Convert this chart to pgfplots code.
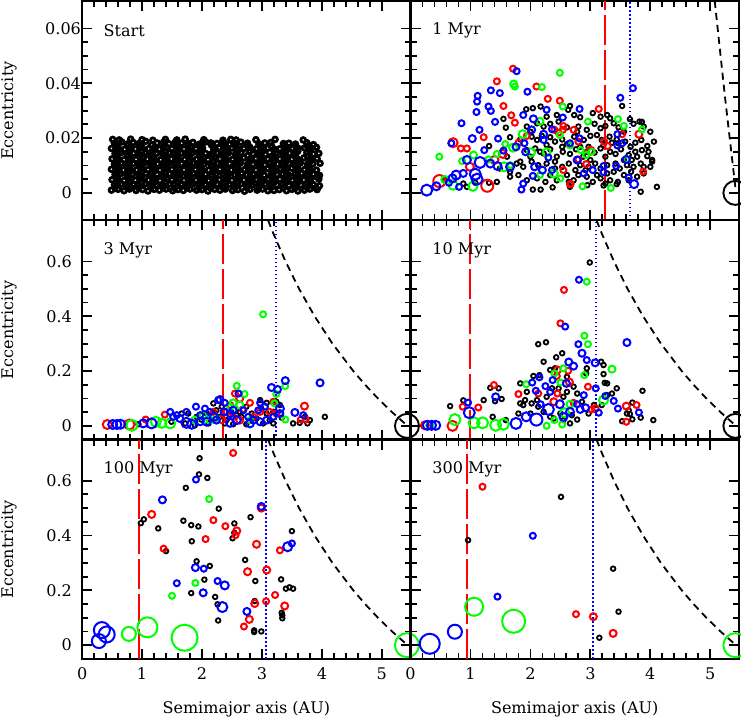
\documentclass[border=0pt]{standalone}
\usepackage{fontspec}
\setmainfont{DejaVu Serif}
\usepackage{pgfplots}
\pgfplotsset{compat=1.18}
\usepgfplotslibrary{groupplots}

\newcommand{\fs}{\fontsize{16bp}{19bp}\selectfont}

\pgfplotsset{
  panel/.style={scale only axis, width=328bp, height=219bp, xmin=0, xmax=5.48, clip=false,
    axis line style={line width=2.2bp}, tick style={line width=1.8bp, black},
    tick align=inside, xtick pos=both, ytick pos=both,
    xtick={0,1,2,3,4,5}, minor x tick num=4, minor y tick num=3,
    major tick length=10bp, minor tick length=6bp,
    xticklabels={}, yticklabels={},
    tick label style={font=\fs},
    xticklabel style={inner sep=0pt, yshift=-8.5bp},
    yticklabel style={inner sep=0pt, xshift=-10bp},
    every axis x label/.style={at={(axis description cs:0.5,0)}, yshift=-50bp, anchor=center, font=\fs},
    every axis y label/.style={at={(axis description cs:0,0.5)}, xshift=-73bp, rotate=90, anchor=center, font=\fs}},
  toprow/.style={ymin=-0.01, ymax=0.07, ytick={0,0.02,0.04,0.06}},
  lowrow/.style={ymin=-0.05, ymax=0.75, ytick={0,0.2,0.4,0.6}},
  dot/.style={only marks, mark=o, mark size=2.3bp, black, line width=1.8bp, mark options={line width=1.8bp}},
  dense/.style={only marks, mark=o, mark size=2.4bp, black, line width=2.7bp, mark options={line width=2.7bp}},
  ring/.style={only marks, scatter, mark=o, line width=2bp, point meta=\thisrow{r},
    mark options={line width=2bp},
    scatter/use mapped color={draw=#1, fill=none, line width=2bp},
    visualization depends on={\thisrow{r}\as\rr},
    scatter/@pre marker code/.append style={/tikz/mark size=\rr bp}},
  qline/.style={draw=black, line width=1.8bp, dash pattern=on 7bp off 5bp},
  rline/.style={draw=red, line width=2.2bp, dash pattern=on 30bp off 5bp},
  bline/.style={draw=blue, line width=2.2bp, dash pattern=on 1.6bp off 2.4bp},
  jup/.style={only marks, mark=o, mark size=12bp, line width=1.9bp, mark options={line width=1.9bp, draw=#1}, #1},
}

\begin{document}
\begin{tikzpicture}
\begin{groupplot}[group style={group size=2 by 3, horizontal sep=0pt, vertical sep=0pt, group name=G}, panel]

% ---------------- Start
\nextgroupplot[toprow, ylabel={Eccentricity},
  yticklabels={0,0.02\hspace*{-9bp},0.04\hspace*{-9bp},0.06\hspace*{-9bp}}]
\addplot[dense] coordinates {
(0.49,.0010)(0.60,.0013)(0.70,.0008)(0.79,.0014)(0.90,.0009)(1.01,.0012)(1.10,.0007)(1.20,.0013)(1.29,.0010)(1.40,.0014)(1.51,.0008)(1.60,.0012)(1.69,.0009)(1.80,.0014)(1.91,.0010)(2.00,.0012)(2.10,.0007)(2.21,.0013)(2.30,.0010)(2.39,.0014)(2.51,.0009)(2.60,.0012)(2.71,.0006)(2.80,.0013)(2.92,.0010)(3.01,.0014)(3.20,.0009)(3.29,.0012)(3.41,.0008)(3.50,.0013)(3.71,.0010)(3.80,.0014)(3.92,.0012)
(0.54,.0029)(0.65,.0032)(0.74,.0026)(0.85,.0031)(0.94,.0027)(1.05,.0033)(1.15,.0028)(1.24,.0030)(1.35,.0026)(1.45,.0032)(1.54,.0029)(1.65,.0031)(1.75,.0027)(1.84,.0033)(1.95,.0028)(2.05,.0030)(2.16,.0026)(2.25,.0032)(2.34,.0029)(2.45,.0031)(2.56,.0027)(2.65,.0033)(2.84,.0030)(2.95,.0026)(3.05,.0032)(3.15,.0028)(3.34,.0031)(3.45,.0027)(3.56,.0032)(3.65,.0029)(3.86,.0030)(3.96,.0026)
(0.50,.0048)(0.59,.0051)(0.70,.0045)(0.81,.0050)(0.89,.0046)(1.00,.0052)(1.11,.0047)(1.19,.0049)(1.30,.0045)(1.41,.0051)(1.50,.0048)(1.61,.0050)(1.70,.0046)(1.79,.0052)(1.90,.0047)(2.01,.0049)(2.11,.0045)(2.20,.0051)(2.29,.0048)(2.41,.0050)(2.50,.0046)(2.61,.0052)(2.70,.0047)(2.91,.0049)(3.00,.0045)(3.11,.0051)(3.21,.0048)(3.30,.0050)(3.51,.0046)(3.60,.0052)(3.70,.0047)(3.81,.0049)(3.95,.0051)
(0.55,.0067)(0.64,.0070)(0.75,.0064)(0.84,.0069)(0.95,.0065)(1.06,.0071)(1.14,.0066)(1.25,.0068)(1.34,.0064)(1.46,.0070)(1.55,.0067)(1.64,.0069)(1.76,.0065)(1.85,.0071)(1.94,.0066)(2.06,.0068)(2.15,.0064)(2.24,.0070)(2.36,.0067)(2.44,.0069)(2.55,.0065)(2.66,.0071)(2.75,.0066)(2.85,.0068)(3.04,.0064)(3.16,.0070)(3.25,.0067)(3.35,.0069)(3.44,.0065)(3.66,.0071)(3.75,.0066)(3.86,.0068)(3.96,.0064)
(0.49,.0086)(0.60,.0089)(0.69,.0083)(0.80,.0088)(0.91,.0084)(0.99,.0090)(1.10,.0085)(1.21,.0087)(1.30,.0083)(1.39,.0089)(1.50,.0086)(1.61,.0088)(1.70,.0084)(1.80,.0090)(1.89,.0085)(2.00,.0087)(2.11,.0083)(2.19,.0089)(2.30,.0086)(2.41,.0088)(2.49,.0084)(2.60,.0090)(2.71,.0085)(2.80,.0087)(2.90,.0083)(3.10,.0089)(3.19,.0086)(3.31,.0088)(3.40,.0084)(3.50,.0090)(3.71,.0085)(3.80,.0087)(3.91,.0083)
(0.54,.0105)(0.65,.0108)(0.74,.0102)(0.85,.0107)(0.96,.0103)(1.04,.0109)(1.15,.0104)(1.26,.0106)(1.35,.0102)(1.44,.0108)(1.55,.0105)(1.66,.0107)(1.74,.0103)(1.85,.0109)(1.95,.0104)(2.04,.0106)(2.16,.0102)(2.25,.0108)(2.35,.0105)(2.46,.0107)(2.55,.0103)(2.64,.0109)(2.76,.0104)(2.95,.0106)(3.05,.0102)(3.14,.0108)(3.26,.0105)(3.45,.0107)(3.55,.0103)(3.64,.0109)(3.76,.0104)(3.85,.0106)(3.97,.0108)
(0.50,.0124)(0.59,.0127)(0.70,.0121)(0.80,.0126)(0.90,.0122)(1.01,.0128)(1.09,.0123)(1.20,.0125)(1.31,.0121)(1.40,.0127)(1.49,.0124)(1.60,.0126)(1.71,.0122)(1.80,.0128)(1.91,.0123)(1.99,.0125)(2.10,.0121)(2.21,.0127)(2.30,.0124)(2.40,.0126)(2.51,.0122)(2.70,.0128)(2.81,.0123)(2.90,.0125)(3.01,.0121)(3.20,.0127)(3.30,.0124)(3.41,.0126)(3.60,.0122)(3.70,.0128)(3.81,.0123)(3.92,.0125)
(0.55,.0143)(0.64,.0146)(0.75,.0140)(0.86,.0145)(0.94,.0141)(1.05,.0147)(1.16,.0142)(1.24,.0144)(1.35,.0140)(1.45,.0146)(1.54,.0143)(1.65,.0145)(1.76,.0141)(1.84,.0147)(1.95,.0142)(2.06,.0144)(2.14,.0140)(2.25,.0146)(2.35,.0143)(2.44,.0145)(2.56,.0141)(2.65,.0147)(2.85,.0142)(2.96,.0144)(3.06,.0140)(3.24,.0146)(3.35,.0143)(3.46,.0145)(3.56,.0141)(3.75,.0147)(3.86,.0142)(3.95,.0144)
(0.49,.0162)(0.60,.0165)(0.71,.0159)(0.80,.0164)(0.89,.0160)(1.00,.0166)(1.11,.0161)(1.20,.0163)(1.29,.0159)(1.41,.0165)(1.50,.0162)(1.59,.0164)(1.70,.0160)(1.81,.0166)(1.90,.0161)(2.01,.0163)(2.20,.0159)(2.29,.0165)(2.40,.0162)(2.50,.0164)(2.61,.0160)(2.80,.0166)(2.91,.0161)(3.10,.0163)(3.21,.0159)(3.40,.0165)(3.51,.0162)(3.71,.0164)(3.80,.0160)(3.91,.0166)
(0.54,.0181)(0.66,.0186)(0.75,.0178)(0.85,.0184)(0.95,.0180)(1.06,.0188)(1.25,.0182)(1.36,.0185)(1.45,.0179)(1.56,.0187)(1.66,.0181)(1.85,.0184)(1.96,.0178)(2.06,.0186)(2.25,.0180)(2.36,.0183)(2.46,.0177)(2.65,.0185)(2.76,.0181)(2.95,.0179)(3.15,.0184)(3.36,.0180)(3.56,.0178)(3.75,.0183)(3.86,.0176)
(0.51,.0195)(0.62,.0193)(0.81,.0196)(1.00,.0194)(1.18,.0192)(1.39,.0195)(1.58,.0193)(1.72,.0196)(2.03,.0194)(2.35,.0192)(2.48,.0195)(2.57,.0193)(2.90,.0194)(3.22,.0195)(3.69,.0193)
(0.55,.0019)(0.75,.0020)(0.95,.0018)(1.15,.0020)(1.35,.0019)(1.55,.0018)(1.75,.0020)(1.95,.0019)(2.15,.0018)(2.35,.0020)
(0.60,.0039)(0.80,.0040)(1.00,.0038)(1.20,.0040)(1.40,.0039)(1.60,.0038)(1.80,.0040)(2.00,.0039)(2.20,.0041)
(0.56,.0058)(0.76,.0059)(0.96,.0057)(1.16,.0060)(1.36,.0058)(1.56,.0057)(1.76,.0059)(1.96,.0058)(2.16,.0060)(2.40,.0058)
(0.60,.0077)(0.80,.0078)(1.00,.0076)(1.20,.0079)(1.40,.0077)(1.60,.0076)(1.80,.0078)(2.00,.0077)(2.20,.0079)
(0.56,.0096)(0.76,.0097)(0.96,.0095)(1.16,.0098)(1.36,.0096)(1.56,.0095)(1.76,.0097)(1.96,.0096)(2.16,.0098)
(0.60,.0115)(0.80,.0116)(1.00,.0114)(1.20,.0117)(1.40,.0115)(1.60,.0114)(1.80,.0116)(2.00,.0115)
(0.56,.0134)(0.76,.0135)(0.96,.0133)(1.16,.0136)(1.36,.0134)(1.56,.0133)(1.76,.0135)(1.96,.0134)
(0.60,.0153)(0.80,.0154)(1.00,.0152)(1.20,.0155)(1.40,.0153)(1.60,.0152)(1.80,.0154)
(0.56,.0172)(0.76,.0173)(0.96,.0171)(1.16,.0174)(1.36,.0172)(1.56,.0171)
(2.55,.0019)(2.75,.0020)(2.95,.0018)(3.15,.0020)(3.35,.0019)(3.55,.0018)(3.75,.0020)(3.90,.0018)(3.10,.0008)(3.60,.0007)
(2.40,.0039)(2.60,.0040)(2.80,.0038)(3.00,.0040)(3.20,.0039)(3.40,.0038)(3.60,.0040)(3.80,.0039)(2.75,.0030)(3.25,.0029)(3.75,.0031)
(2.60,.0058)(2.80,.0057)(2.96,.0058)(3.16,.0059)(3.40,.0058)(3.56,.0057)(3.76,.0060)(3.92,.0058)(2.80,.0049)(3.41,.0049)
(2.40,.0077)(2.60,.0078)(2.80,.0076)(3.00,.0079)(3.20,.0077)(3.40,.0076)(3.60,.0078)(3.80,.0077)(2.95,.0067)(3.55,.0068)
(2.36,.0096)(2.56,.0097)(2.76,.0095)(2.96,.0098)(3.16,.0096)(3.36,.0095)(3.56,.0097)(3.76,.0096)(3.00,.0086)(3.60,.0087)
(2.20,.0115)(2.40,.0116)(2.60,.0114)(2.80,.0117)(3.00,.0115)(3.20,.0114)(3.40,.0116)(3.60,.0115)(3.80,.0114)(2.85,.0105)(3.35,.0105)
(2.16,.0134)(2.36,.0135)(2.56,.0133)(2.76,.0136)(2.96,.0134)(3.16,.0133)(3.36,.0135)(3.56,.0134)(3.76,.0135)(2.60,.0124)(3.10,.0124)(3.50,.0123)
(2.00,.0153)(2.20,.0154)(2.40,.0152)(2.60,.0155)(2.80,.0153)(3.00,.0152)(3.20,.0154)(3.40,.0153)(3.60,.0152)(3.80,.0154)(2.70,.0162)(3.00,.0162)(3.30,.0161)(3.60,.0163)
(1.76,.0173)(1.96,.0171)(2.16,.0174)(2.36,.0172)(2.56,.0171)(2.76,.0173)(2.96,.0172)(3.16,.0171)(3.36,.0173)(3.56,.0172)(3.76,.0171)(1.76,.0181)(2.15,.0182)(2.55,.0181)(3.05,.0182)(3.45,.0181)
};
\node[anchor=west, font=\fs] at (rel axis cs:0.055,0.865) {Start};

% ---------------- 1 Myr
\nextgroupplot[toprow]
\addplot[rline] coordinates {(3.25,-0.01)(3.25,0.07)};
\addplot[bline] coordinates {(3.66,-0.01)(3.66,0.07)};
\addplot[qline] coordinates {(5.075,0.07)(5.246,0.035)(5.43,0)};
\addplot[dot] coordinates {
(1.93,.0305)(2.04,.0309)(2.17,.0315)(2.66,.0317)(2.63,.0303)(2.27,.0278)(2.44,.0284)(2.73,.0284)(2.83,.0276)(3.04,.0291)(3.17,.0278)(3.28,.0284)(3.33,.0272)(3.53,.0317)(3.66,.0269)(3.86,.0259)
(1.59,.0238)(1.55,.0270)(1.94,.0242)(2.11,.0254)(2.22,.0242)(2.33,.0252)(2.47,.0260)(2.61,.0239)(2.80,.0242)(2.94,.0230)(3.07,.0252)(3.17,.0236)(3.25,.0244)(3.39,.0254)(3.47,.0239)(3.56,.0223)(3.72,.0252)(3.82,.0260)(3.89,.0242)(4.00,.0223)(2.00,.0223)
(2.02,.0205)(2.11,.0193)(2.19,.0208)(2.33,.0203)(2.41,.0187)(2.53,.0195)(2.61,.0178)(2.73,.0205)(2.89,.0193)(3.00,.0208)(3.11,.0211)(3.19,.0193)(3.32,.0205)(3.36,.0183)(3.44,.0195)(3.58,.0187)(3.67,.0168)(3.75,.0183)(3.85,.0193)(3.95,.0171)(4.06,.0187)(1.83,.0195)(1.31,.0171)(1.66,.0203)(2.27,.0175)
(1.94,.0156)(2.08,.0162)(2.22,.0144)(2.33,.0159)(2.44,.0132)(2.54,.0150)(2.66,.0142)(2.76,.0159)(2.88,.0132)(2.97,.0168)(3.07,.0147)(3.17,.0162)(3.25,.0132)(3.33,.0150)(3.42,.0142)(3.51,.0159)(3.64,.0138)(3.75,.0150)(3.78,.0132)(3.86,.0156)(3.95,.0134)(4.03,.0120)(2.00,.0132)(1.83,.0114)(1.61,.0132)
(1.77,.0107)(1.88,.0095)(2.02,.0114)(2.13,.0101)(2.27,.0107)(2.41,.0114)(2.53,.0095)(2.64,.0107)(2.75,.0083)(2.83,.0101)(2.97,.0095)(3.08,.0107)(3.17,.0089)(3.28,.0101)(3.39,.0077)(3.49,.0089)(3.61,.0101)(3.72,.0095)(3.84,.0107)(4.00,.0095)(4.03,.0114)(1.66,.0077)(1.49,.0089)
(1.66,.0059)(1.80,.0065)(1.94,.0046)(2.11,.0053)(2.25,.0040)(2.33,.0065)(2.44,.0046)(2.61,.0065)(2.72,.0046)(2.80,.0065)(2.94,.0059)(3.04,.0040)(3.17,.0053)(3.25,.0034)(3.33,.0046)(3.46,.0040)(3.56,.0065)(3.68,.0077)(3.78,.0059)(3.89,.0071)(1.44,.0040)(1.31,.0037)(1.08,.0037)(0.94,.0022)(0.88,.0034)
(2.04,.0012)(2.17,.0012)(2.37,.0020)(2.66,.0022)(2.95,.0028)(3.22,.0027)(3.44,.0032)(3.84,.0004)(4.11,.0022)(0.57,.0046)
(3.00,.0120)(2.83,.0168)(3.28,.0071)(3.56,.0120)(3.69,.0120)(3.89,.0095)(3.97,.0150)(2.92,.0083)(2.64,.0040)(2.94,.0150)(3.47,.0181)(3.22,.0175)(2.78,.0223)(2.53,.0168)(2.16,.0150)(2.41,.0089)(3.11,.0065)(3.42,.0107)(3.64,.0046)
};
\addplot[ring=red] table[row sep=\\] {x y r\\
1.71 .0453 3\\ 1.44 .0407 3\\ 2.10 .0388 3\\ 2.29 .0343 3\\ 2.49 .0336 3\\ 1.55 .0317 3\\ 1.68 .0283 3\\ 1.74 .0256 3\\
3.14 .0306 3\\ 1.22 .0203 3\\ 0.71 .0183 4.5\\ 0.84 .0162 3\\ 0.94 .0162 3\\ 1.80 .0183 3\\ 1.54 .0142 4\\ 1.40 .0120 4\\
0.99 .0095 4\\ 0.48 .0043 6\\ 1.28 .0026 6\\ 2.67 .0032 3\\ 2.40 .0230 3\\ 2.54 .0230 3\\ 2.72 .0230 3\\ 2.55 .0244 3\\
2.47 .0220 3\\ 2.80 .0187 3\\ 3.23 .0187 3\\ 3.29 .0171 3\\ 3.53 .0214 3\\ 3.81 .0214 3.5\\ 3.00 .0154 4\\ 2.80 .0122 3\\
2.93 .0105 3\\ 2.55 .0083 3\\ 3.88 .0078 3\\ 2.66 .0031 3\\ 1.94 .0208 3\\
};
\addplot[ring=green] table[row sep=\\] {x y r\\
2.49 .0438 3\\ 1.72 .0397 3.5\\ 1.74 .0388 3\\ 2.19 .0386 3\\ 2.54 .0315 3\\ 2.16 .0261 3.5\\ 2.96 .0260 3\\ 3.46 .0269 3\\
3.56 .0244 3\\ 3.86 .0231 3\\ 1.87 .0214 4\\ 1.71 .0165 4\\ 1.58 .0178 3\\ 2.01 .0148 4\\ 2.27 .0148 4\\ 2.49 .0211 3\\
1.44 .0142 3\\ 1.30 .0122 3\\ 0.48 .0132 3\\ 0.86 .0116 3\\ 1.05 .0138 3.5\\ 1.56 .0095 4.5\\ 1.66 .0101 3\\ 2.39 .0071 4\\
2.16 .0065 3\\ 2.50 .0053 3\\ 2.87 .0024 3\\ 3.34 .0018 3\\ 2.93 .0138 3\\ 2.84 .0156 3\\ 3.02 .0150 3\\ 3.61 .0122 3\\
0.71 .0028 4.5\\ 0.57 .0049 3.5\\ 1.04 .0024 4.5\\ 2.66 .0173 3\\
};
\addplot[ring=blue] table[row sep=\\] {x y r\\
1.77 .0444 3\\ 1.12 .0354 3\\ 1.49 .0364 3\\ 1.34 .0374 3\\ 1.95 .0369 3\\ 1.11 .0333 3\\ 1.30 .0315 3\\ 1.34 .0299 3\\
1.10 .0295 3\\ 1.88 .0284 3\\ 2.27 .0303 3\\ 2.54 .0275 3\\ 2.82 .0306 3\\ 0.85 .0254 3\\ 1.41 .0259 3\\ 2.05 .0270 3.5\\
1.15 .0230 3\\ 2.02 .0230 3.5\\ 2.22 .0214 3.5\\ 2.36 .0232 3\\ 1.03 .0198 3.5\\ 1.46 .0198 3\\ 0.68 .0181 3\\ 1.23 .0156 3\\
1.76 .0168 3.5\\ 1.90 .0181 3\\ 1.55 .0154 3\\ 2.22 .0193 3\\ 2.66 .0181 3\\ 2.82 .0199 3\\ 0.94 .0120 4\\ 1.16 .0111 5.5\\
1.33 .0107 4\\ 1.45 .0098 4\\ 1.66 .0095 4\\ 1.92 .0150 3.5\\ 2.07 .0095 3.5\\ 2.30 .0129 3\\ 2.20 .0083 3.5\\ 2.36 .0083 3\\
2.78 .0120 3.5\\ 2.89 .0071 3\\ 3.04 .0083 3\\ 3.50 .0347 3\\ 3.71 .0382 3\\ 3.43 .0098 3\\ 3.60 .0122 3.5\\ 3.64 .0056 3\\
3.73 .0032 4\\ 3.53 .0181 3\\ 3.45 .0214 3\\ 3.22 .0098 3\\ 0.76 .0065 4.5\\ 0.88 .0071 3.5\\ 1.08 .0068 5.5\\ 1.11 .0050 5.5\\
0.70 .0053 4\\ 0.64 .0037 3\\ 0.81 .0022 3\\ 0.27 .0010 5.5\\ 0.43 .0024 4\\ 1.88 .0034 3\\ 1.85 .0012 3\\ 2.04 .0062 3\\
3.22 .0076 3\\ 3.45 .0173 3\\
};
\addplot[jup=black] coordinates {(5.42,0)};
\node[anchor=west, font=\fs] at (rel axis cs:0.056,0.865) {1 Myr};

% ---------------- 3 Myr
\nextgroupplot[lowrow, ylabel={Eccentricity}, yticklabels={0,0.2,0.4,0.6}]
\addplot[rline] coordinates {(2.345,-0.05)(2.345,0.75)};
\addplot[bline] coordinates {(3.23,-0.05)(3.23,0.75)};
\addplot[qline] coordinates {(3.103,0.75)(3.194,0.7)(3.394,0.6)(3.620,0.5)(3.879,0.4)(4.177,0.3)(4.525,0.2)(4.722,0.15)(4.936,0.1)(5.171,0.05)(5.43,0)};
\addplot[dot] coordinates {
(0.94,.006)(1.49,.015)(1.77,.045)(2.19,.082)(1.72,.009)(1.91,.033)(1.99,.023)(2.08,.045)(2.24,.057)(2.30,.033)
(2.41,.021)(2.49,.051)(2.58,.039)(2.66,.033)(2.74,.070)(2.83,.045)(2.91,.027)(2.99,.063)(3.08,.045)(3.02,.009)
(3.13,.021)(3.19,.051)(3.24,.088)(3.19,.009)(3.33,.030)(3.52,.009)(3.63,.011)(3.72,.033)(3.80,.021)(3.76,.009)
(4.05,.033)(2.52,.006)(2.74,.006)(2.11,.009)(1.88,.002)(1.66,.045)(2.33,.070)(2.63,.051)(2.38,.009)(3.08,.084)
(3.30,.076)(2.97,.094)
};
\addplot[ring=red] table[row sep=\\] {x y r\\
0.42 .005 4.5\\ 0.79 .005 5\\ 1.06 .023 3\\ 1.38 .041 3\\ 2.55 .118 3\\ 2.63 .100 3.5\\ 2.47 .076 3\\ 2.80 .084 3\\
2.68 .060 3\\ 2.97 .051 3\\ 3.13 .051 3\\ 2.33 .023 3.5\\ 2.63 .021 3.5\\ 3.71 .072 3.5\\ 3.65 .023 3\\ 3.73 .023 3\\
3.24 .045 3\\ 2.52 .033 3\\ 2.19 .051 3\\ 2.86 .033 3\\ 2.41 .051 3\\ 3.19 .088 3\\
};
\addplot[ring=green] table[row sep=\\] {x y r\\
0.83 .002 5.5\\ 1.23 .015 5\\ 1.33 .009 4.5\\ 1.47 .009 5\\ 2.02 .039 3.5\\ 2.13 .021 3.5\\ 2.58 .146 3\\ 2.71 .116 3\\
3.39 .145 3\\ 3.24 .116 3\\ 3.21 .082 3\\ 3.39 .023 3\\ 3.02 .407 3\\ 2.47 .070 3\\ 2.52 .084 3.5\\ 2.63 .076 3.5\\
2.24 .027 3\\ 1.88 .021 3.5\\ 2.80 .021 3\\
};
\addplot[ring=blue] table[row sep=\\] {x y r\\
0.51 .005 4.5\\ 0.58 .005 4.5\\ 0.64 .006 4.5\\ 1.02 .009 4\\ 1.16 .009 5\\ 1.47 .051 3\\ 1.52 .033 3\\ 1.58 .039 3\\
1.63 .027 3.5\\ 1.74 .011 5\\ 1.83 .006 4.5\\ 1.90 .070 3\\ 1.97 .039 3\\ 2.05 .063 3\\ 2.13 .051 3\\ 2.20 .033 4\\
2.27 .094 3\\ 2.30 .096 3.5\\ 2.37 .051 3.5\\ 2.47 .045 3.5\\ 2.58 .021 4\\ 2.61 .118 3\\ 2.69 .057 3\\ 2.77 .033 3\\
2.86 .021 3.5\\ 2.94 .057 3\\ 2.97 .084 3\\ 3.05 .070 3\\ 3.08 .021 3.5\\ 3.16 .140 3.5\\ 3.26 .133 3.5\\ 3.39 .165 3.5\\
3.30 .063 4\\ 3.30 .045 3.5\\ 3.19 .033 3\\ 3.55 .049 3.5\\ 3.69 .039 3\\ 3.97 .157 3.5\\ 2.08 .015 4\\ 2.47 .011 4\\
2.80 .009 4\\ 2.97 .015 3.5\\ 1.74 .051 3\\ 1.97 .015 3.5\\ 2.24 .021 3.5\\ 2.52 .057 3.5\\ 2.38 .084 3\\
};
\addplot[jup=black] coordinates {(5.42,0)};
\node[anchor=west, font=\fs] at (rel axis cs:0.055,0.865) {3 Myr};

% ---------------- 10 Myr
\nextgroupplot[lowrow]
\addplot[rline] coordinates {(0.99,-0.05)(0.99,0.75)};
\addplot[bline] coordinates {(3.10,-0.05)(3.10,0.75)};
\addplot[qline] coordinates {(3.103,0.75)(3.194,0.7)(3.394,0.6)(3.620,0.5)(3.879,0.4)(4.177,0.3)(4.525,0.2)(4.722,0.15)(4.936,0.1)(5.171,0.05)(5.43,0)};
\addplot[dot] coordinates {
(2.99,.596)(2.13,.298)(2.26,.305)(2.53,.265)(2.43,.250)(2.22,.234)(1.33,.139)(1.47,.137)(1.41,.090)(1.22,.094)
(0.66,.072)(0.88,.093)(1.59,.021)(1.37,.033)(1.83,.155)(2.05,.182)(2.15,.185)(2.33,.204)(2.41,.210)(1.91,.094)
(1.52,.098)(1.83,.082)(2.02,.082)(2.39,.027)(2.50,.045)(2.55,.021)(2.94,.210)(2.93,.191)(3.18,.234)(3.22,.222)
(3.22,.189)(3.24,.157)(3.28,.155)(3.44,.137)(3.87,.128)(3.36,.118)(3.28,.112)(3.70,.085)(3.64,.057)(3.61,.045)
(3.66,.043)(3.70,.024)(3.84,.030)(3.53,.017)(4.05,.021)(3.19,.076)(2.78,.023)(2.66,.009)(2.27,.106)(2.36,.137)
(1.94,.124)(2.11,.094)(2.22,.051)(2.13,.070)(2.47,.137)(2.61,.179)(2.72,.143)(2.78,.118)(2.86,.088)(2.97,.045)
(3.06,.076)(2.69,.039)(2.00,.045)(1.80,.045)(1.88,.076)(2.55,.106)(2.61,.124)(2.33,.033)
};
\addplot[ring=red] table[row sep=\\] {x y r\\
2.56 .496 3\\ 2.50 .374 3\\ 1.39 .149 3\\ 0.87 .070 3\\ 1.13 .067 3\\ 1.80 .116 3\\ 2.13 .118 3\\ 2.45 .204 3.5\\
2.44 .182 3\\ 2.65 .160 3.5\\ 2.63 .201 3\\ 2.96 .143 3\\ 2.39 .088 3.5\\ 2.45 .118 3\\ 3.08 .063 3.5\\ 3.02 .060 3\\
3.60 .072 3.5\\ 3.77 .076 3\\ 3.60 .015 3\\ 0.70 .000 5\\ 0.24 .002 4\\ 2.72 .084 3\\
};
\addplot[ring=green] table[row sep=\\] {x y r\\
2.94 .526 3\\ 2.90 .329 3\\ 2.96 .298 3\\ 3.36 .207 3.5\\ 2.90 .185 3\\ 1.93 .152 3\\ 2.40 .191 3\\ 2.50 .158 3\\
2.55 .210 3\\ 2.66 .079 3.5\\ 3.22 .094 4.5\\ 0.74 .023 5.5\\ 1.06 .011 5.5\\ 1.20 .011 5.5\\ 1.42 .002 5.5\\ 1.55 .006 5.5\\
2.27 .000 3\\ 2.53 .005 3\\ 2.40 .021 3\\ 2.57 .048 4.5\\ 0.32 .002 3.5\\
};
\addplot[ring=blue] table[row sep=\\] {x y r\\
2.81 .533 3\\ 2.58 .362 3\\ 2.80 .298 3\\ 2.86 .265 3.5\\ 2.94 .240 3\\ 3.61 .304 3.5\\ 3.08 .230 3.5\\ 2.64 .233 3.5\\
2.72 .218 3.5\\ 0.98 .048 5.5\\ 1.42 .106 3.5\\ 0.96 .085 3\\ 2.30 .060 5.5\\ 2.10 .023 6\\ 1.76 .009 5.5\\ 1.93 .033 4.5\\
2.60 .155 3.5\\ 2.37 .167 3\\ 2.25 .145 3\\ 2.15 .177 3\\ 2.03 .158 3\\ 2.09 .128 3\\ 2.17 .079 3\\ 2.49 .079 4\\
2.66 .051 4\\ 2.83 .060 3.5\\ 2.89 .112 3\\ 2.92 .066 3.5\\ 3.25 .109 3\\ 3.39 .091 3\\ 3.46 .063 3\\ 3.81 .049 3\\
3.14 .048 3\\ 3.09 .137 3\\ 0.28 .002 4.5\\ 0.35 .002 4.5\\ 0.42 .002 4.5\\ 2.55 .033 4\\ 2.33 .124 3\\ 2.78 .079 3\\
};
\addplot[jup=black] coordinates {(5.42,0)};
\node[anchor=west, font=\fs] at (rel axis cs:0.056,0.865) {10 Myr};

% ---------------- 100 Myr
\nextgroupplot[lowrow, ylabel={Eccentricity}, yticklabels={0,0.2,0.4,0.6},
  xticklabels={0,1,2,3,4,5}, xlabel={Semimajor axis (AU)}]
\addplot[rline] coordinates {(0.95,-0.05)(0.95,0.75)};
\addplot[bline] coordinates {(3.07,-0.05)(3.07,0.75)};
\addplot[qline] coordinates {(3.103,0.75)(3.194,0.7)(3.394,0.6)(3.620,0.5)(3.879,0.4)(4.177,0.3)(4.525,0.2)(4.722,0.15)(4.936,0.1)(5.171,0.05)(5.43,0)};
\addplot[dot] coordinates {
(1.96,.682)(1.95,.623)(2.09,.610)(1.73,.574)(2.28,.498)(0.98,.445)(1.03,.459)(1.27,.426)(1.69,.454)(1.82,.438)
(1.94,.433)(2.54,.444)(2.54,.410)(2.51,.390)(2.81,.467)(3.50,.416)(1.83,.379)(1.40,.343)(1.91,.306)(2.13,.289)
(2.04,.239)(2.72,.311)(2.22,.176)(2.27,.090)(2.89,.234)(2.88,.161)(2.87,.054)(2.87,.048)(2.99,.050)(3.32,.240)
(3.33,.118)(3.34,.109)(3.34,.098)(3.40,.206)(3.46,.211)(3.52,.206)(1.82,.190)(2.26,.149)
};
\addplot[ring=red] table[row sep=\\] {x y r\\
2.52 .701 3\\ 1.16 .477 3.5\\ 2.19 .456 3\\ 2.39 .434 3\\ 2.58 .417 3.5\\ 2.56 .401 3\\ 2.06 .387 3\\ 1.36 .352 3\\
2.91 .368 3.5\\ 2.99 .500 3.5\\ 3.08 .274 3.5\\ 2.76 .268 3.5\\ 3.22 .183 3\\ 3.07 .160 3\\ 2.88 .152 3.5\\ 2.79 .094 3.5\\
2.70 .068 3\\ 3.38 .143 3.5\\ 3.30 .346 3\\
};
\addplot[ring=green] table[row sep=\\] {x y r\\
2.12 .533 3\\ 1.89 .227 3\\ 1.50 .180 3\\ 0.78 .041 7\\ 1.09 .065 10\\ 1.71 .027 13\\
};
\addplot[ring=blue] table[row sep=\\] {x y r\\
1.90 .604 3\\ 1.34 .530 3.5\\ 2.99 .506 3.5\\ 1.89 .283 3.5\\ 2.03 .279 3\\ 1.58 .226 3\\ 2.02 .191 3.5\\ 2.26 .234 3\\
2.38 .218 4\\ 2.34 .139 5\\ 2.75 .123 3.5\\ 3.43 .359 4.5\\ 3.50 .371 3\\ 0.33 .055 8\\ 0.28 .015 7\\ 0.41 .039 8\\
};
\addplot[jup=green] coordinates {(5.42,0)};
\node[anchor=west, font=\fs] at (rel axis cs:0.055,0.865) {100 Myr};

% ---------------- 300 Myr
\nextgroupplot[lowrow, xticklabels={0,1,2,3,4,5}, xlabel={Semimajor axis (AU)}]
\addplot[rline] coordinates {(0.94,-0.05)(0.94,0.75)};
\addplot[bline] coordinates {(3.04,-0.05)(3.04,0.75)};
\addplot[qline] coordinates {(3.103,0.75)(3.194,0.7)(3.394,0.6)(3.620,0.5)(3.879,0.4)(4.177,0.3)(4.525,0.2)(4.722,0.15)(4.936,0.1)(5.171,0.05)(5.43,0)};
\addplot[dot] coordinates {(2.51,.541)(0.96,.383)(3.38,.279)(3.47,.122)(3.15,.027)};
\addplot[ring=red] table[row sep=\\] {x y r\\
1.20 .578 3\\ 2.76 .113 3\\ 3.05 .104 3.5\\ 3.38 .043 3.5\\
};
\addplot[ring=green] table[row sep=\\] {x y r\\
1.06 .140 9\\ 1.72 .087 11.5\\
};
\addplot[ring=blue] table[row sep=\\] {x y r\\
2.04 .399 3\\ 1.45 .177 3\\ 0.74 .049 7\\ 0.32 .005 10\\
};
\addplot[jup=green] coordinates {(5.42,0)};
\node[anchor=west, font=\fs] at (rel axis cs:0.056,0.865) {300 Myr};
\end{groupplot}
\pgfresetboundingbox
\path[use as bounding box] ([xshift=-82bp,yshift=1bp]G c1r1.north west) rectangle ([xshift=2bp,yshift=-60bp]G c2r3.south east);
\end{tikzpicture}
\end{document}
